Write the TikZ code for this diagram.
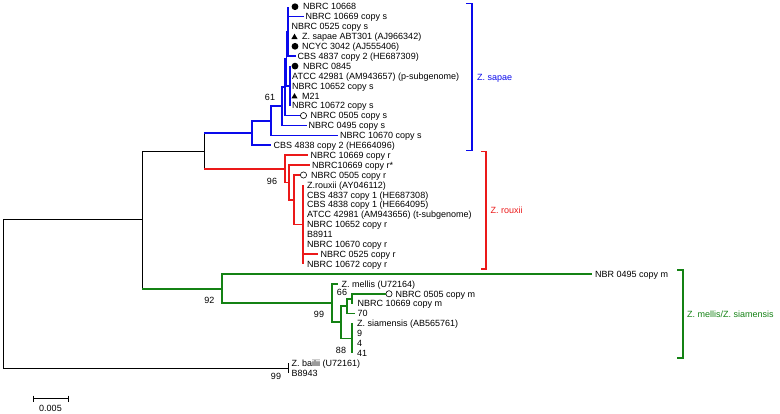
\documentclass[tikz,border=0pt]{standalone}
\usepackage{fontspec}
\setmainfont{Liberation Sans}
\usepackage{xcolor}
\usepackage{tikz}
\usetikzlibrary{shapes.geometric}

\definecolor{sapaeblue}{RGB}{10,10,235}
\definecolor{rouxiired}{RGB}{235,25,25}
\definecolor{mellisgreen}{RGB}{20,130,20}

\begin{document}
\begin{tikzpicture}[
            x=1pt,y=-1pt,
            branch/.style={line width=0.8pt},
            sbranch/.style={line width=1.6pt,sapaeblue},
            rbranch/.style={line width=1.6pt,rouxiired},
            mbranch/.style={line width=1.6pt,mellisgreen},
            taxon/.style={anchor=west,inner sep=0pt,text height=6.5pt,text depth=0pt,font=\fontsize{9}{10}\selectfont},
            support/.style={inner sep=0pt,text height=6.5pt,text depth=0pt,font=\fontsize{9}{10}\selectfont},
            filled/.style={circle,fill=black,inner sep=0pt,minimum size=6.8pt},
            hollow/.style={circle,draw=black,line width=0.6pt,inner sep=0pt,minimum size=6.2pt},
            tri/.style={regular polygon,regular polygon sides=3,fill=black,inner sep=0pt,minimum size=7.2pt},
            bracket/.style={line width=1.6pt}
        ]
            \useasboundingbox (0,0) rectangle (780,414);

            % Leaves: index / tip / label start / name
            \foreach \i/\tx/\lx/\name in {
                0/288/303/NBRC 10668,
                1/303.5/305.5/NBRC 10669 copy s,
                2/288/291.5/NBRC 0525 copy s,
                3/288/302/Z. sapae ABT301 (AJ966342),
                4/288/302/NCYC 3042 (AJ555406),
                5/295.5/297.5/CBS 4837 copy 2 (HE687309),
                6/290/303/NBRC 0845,
                7/290/292/ATCC 42981 (AM943657) (p-subgenome),
                8/290/292/NBRC 10652 copy s,
                9/290/302/M21,
                10/290/292/NBRC 10672 copy s,
                11/300/310.5/NBRC 0505 copy s,
                12/306.5/308.5/NBRC 0495 copy s,
                13/337.5/340/NBRC 10670 copy s,
                14/270.5/273.5/CBS 4838 copy 2 (HE664096),
                15/308/310.5/NBRC 10669 copy r,
                16/309.5/312/NBRC10669 copy r*,
                17/300/311/NBRC 0505 copy r,
                18/303/307/Z.rouxii (AY046112),
                19/303/307/CBS 4837 copy 1 (HE687308),
                20/303/307/CBS 4838 copy 1 (HE664095),
                21/303/307/ATCC 42981 (AM943656) (t-subgenome),
                22/303/307/NBRC 10652 copy r,
                23/303/307/B8911,
                24/303/307/NBRC 10670 copy r,
                25/318/320.5/NBRC 0525 copy r,
                26/303/307/NBRC 10672 copy r,
                27/592/595/NBR 0495 copy m,
                28/337.5/341.5/Z. mellis (U72164),
                29/386/395.5/NBRC 0505 copy m,
                30/352/357.5/NBRC 10669 copy m,
                31/355/357.5/70,
                32/352/357/Z. siamensis (AB565761),
                33/352/357/9,
                34/352/357/4,
                35/352/357/41,
                36/288/291.5/Z. bailii (U72161),
                37/288/291.5/B8943} {
                \coordinate (t\i) at (\tx,{6.7+9.9*\i});
                \node[taxon] (n\i) at (\lx,{6.7+9.9*\i}) {\name};
            }

            % Markers
            \node[filled] (m0) at (295,6.7) {};
            \node[tri] (m3) at (294.5,37.3) {};
            \node[filled] (m4) at (295,46.3) {};
            \node[filled] (m6) at (295,66.1) {};
            \node[tri] (m9) at (294.5,96.7) {};
            \node[hollow] (o11) at (303.5,115.6) {};
            \node[hollow] (o17) at (303.5,175) {};
            \node[hollow] (o29) at (389,293.8) {};

            % Inner nodes
            \coordinate (P1) at (288,31.45);
            \coordinate (P2) at (290,85.9);
            \coordinate (S5) at (286.5,58.7);
            \coordinate (S4) at (285,87.1);
            \coordinate (S3) at (282,106.3);
            \coordinate (S2) at (271,120.9);
            \coordinate (S1) at (252,133.1);
            \coordinate (R4) at (303,224.5);
            \coordinate (R3) at (294,199.75);
            \coordinate (R2) at (289,182.4);
            \coordinate (R1) at (285,168.8);
            \coordinate (SR) at (204,150.95);
            \coordinate (ME) at (352,298.75);
            \coordinate (MC) at (347,306.2);
            \coordinate (MD) at (352,338.35);
            \coordinate (MB) at (341,322.3);
            \coordinate (MA) at (332,303.1);
            \coordinate (M1) at (222,288.8);
            \coordinate (N1) at (142,219.75);
            \coordinate (ZB) at (288,368.05);
            \coordinate (root) at (3,293.9);

            % Z. sapae
            \foreach \t in {0,...,5} {\draw[sbranch] (P1) |- (t\t);}
            \foreach \t in {6,...,10} {\draw[sbranch] (P2) |- (t\t);}
            \draw[sbranch] (S5) |- (P1);
            \draw[sbranch] (S5) |- (P2);
            \draw[sbranch] (S4) |- (S5);
            \draw[sbranch] (S4) |- (o11.west);
            \draw[sbranch] (S3) |- (S4);
            \draw[sbranch] (S3) |- (t12);
            \draw[sbranch] (S2) |- (S3);
            \draw[sbranch] (S2) |- (t13);
            \draw[sbranch] (S1) |- (S2);
            \draw[sbranch] (S1) |- (t14);

            % Z. rouxii
            \foreach \t in {18,...,26} {\draw[rbranch] (R4) |- (t\t);}
            \draw[rbranch] (R3) |- (o17.west);
            \draw[rbranch] (R3) |- (R4);
            \draw[rbranch] (R2) |- (t16);
            \draw[rbranch] (R2) |- (R3);
            \draw[rbranch] (R1) |- (t15);
            \draw[rbranch] (R1) |- (R2);

            % Z. mellis / Z. siamensis
            \draw[mbranch] (ME) |- (o29.west);
            \draw[mbranch] (ME) |- (t30);
            \draw[mbranch] (MC) |- (ME);
            \draw[mbranch] (MC) |- (t31);
            \foreach \t in {32,...,35} {\draw[mbranch] (MD) |- (t\t);}
            \draw[mbranch] (MB) |- (MC);
            \draw[mbranch] (MB) |- (MD);
            \draw[mbranch] (MA) |- (t28);
            \draw[mbranch] (MA) |- (MB);
            \draw[mbranch] (M1) |- (t27);
            \draw[mbranch] (M1) |- (MA);

            % Backbone
            \draw[branch] (SR |- S1) -- (SR |- R1);
            \draw[sbranch] (SR |- S1) -- (S1);
            \draw[rbranch] (SR |- R1) -- (R1);
            \draw[branch] (N1) |- (SR);
            \draw[branch] (N1) -- (N1 |- M1);
            \draw[mbranch] (N1 |- M1) -- (M1);
            \draw[branch] (root) |- (N1);
            \draw[branch] (root) |- (ZB);
            \draw[branch] (ZB) |- (t36);
            \draw[branch] (ZB) |- (t37);

            % Bootstrap values
            \node[support] (b61) at (270,97) {61};
            \node[support] (b96) at (272,181) {96};
            \node[support] (b92) at (209.5,300.5) {92};
            \node[support] (b99m) at (319,314.3) {99};
            \node[support] (b66) at (342,292.5) {66};
            \node[support] (b88) at (341,350) {88};
            \node[support] (b99b) at (276,376) {99};

            % Clade brackets
            \draw[bracket,sapaeblue] (466,3.5) -- (472,3.5) -- (472,150.5) -- (466,150.5);
            \node[taxon,sapaeblue] (csapae) at (477,77) {Z. sapae};
            \draw[bracket,rouxiired] (481,151.5) -- (486,151.5) -- (486,269) -- (481,269);
            \node[taxon,rouxiired] (crouxii) at (490.5,210.5) {Z. rouxii};
            \draw[bracket,mellisgreen] (677,270) -- (683,270) -- (683,358) -- (677,358);
            \node[taxon,mellisgreen] (cmellis) at (687,314) {Z. mellis/Z. siamensis};

            % Scale bar
            \coordinate (sbl) at (33,398.5);
            \coordinate (sbr) at (68,398.5);
            \draw[branch] (sbl) -- (sbr);
            \draw[branch] ([yshift=3pt]sbl) -- ([yshift=-3pt]sbl);
            \draw[branch] ([yshift=3pt]sbr) -- ([yshift=-3pt]sbr);
            \node[support] (sblabel) at (50.5,408) {0.005};
        \end{tikzpicture}
\end{document}
